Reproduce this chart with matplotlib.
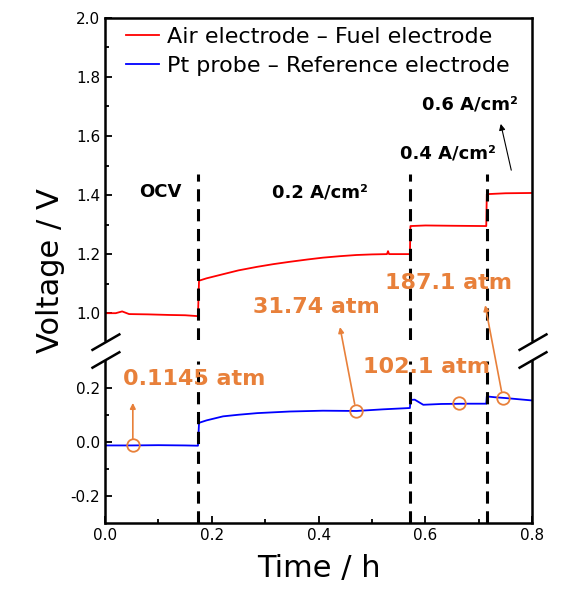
import matplotlib.pyplot as plt
from matplotlib.lines import Line2D

plt.rcParams["axes.unicode_minus"] = False

# values
t_red = [0.0, 0.02, 0.032, 0.045, 0.08, 0.12, 0.15, 0.174, 0.176, 0.19, 0.221, 0.25,
         0.285, 0.315, 0.346, 0.38, 0.408, 0.44, 0.471, 0.50, 0.528, 0.530, 0.532,
         0.571, 0.572, 0.60, 0.65, 0.714, 0.715, 0.75, 0.8]
v_red = [1.0, 1.0, 1.006, 0.997, 0.996, 0.994, 0.993, 0.99, 1.11, 1.118, 1.132, 1.145,
         1.157, 1.166, 1.174, 1.182, 1.188, 1.193, 1.197, 1.199, 1.2, 1.21, 1.2,
         1.2, 1.295, 1.297, 1.296, 1.295, 1.403, 1.406, 1.407]

t_blue = [0.0, 0.05, 0.10, 0.15, 0.174, 0.176, 0.19, 0.221, 0.25, 0.285, 0.346, 0.408,
          0.471, 0.52, 0.571, 0.572, 0.58, 0.596, 0.63, 0.68, 0.714, 0.715, 0.73, 0.75, 0.8]
v_blue = [-0.013, -0.013, -0.012, -0.013, -0.014, 0.071, 0.08, 0.095, 0.101, 0.107, 0.113,
          0.116, 0.115, 0.121, 0.126, 0.156, 0.157, 0.138, 0.141, 0.142, 0.142, 0.169,
          0.166, 0.163, 0.154]

t_circ = [0.052, 0.47, 0.663, 0.745]
v_circ = [-0.013, 0.115, 0.144, 0.163]
p_labels = ["0.1145 atm", "31.74 atm", "102.1 atm", "187.1 atm"]

t_steps = [0.175, 0.572, 0.715]
step_labels = ["OCV", "0.2 A/cm²", "0.4 A/cm²", "0.6 A/cm²"]

orange = "#E8803A"

fig = plt.figure(figsize=(5.71, 5.94), dpi=100)
L, R = 0.184, 0.932
ax_hi = fig.add_axes([L, 0.428, R - L, 0.970 - 0.428])
ax_lo = fig.add_axes([L, 0.120, R - L, 0.392 - 0.120])

for ax in (ax_hi, ax_lo):
    ax.plot(t_red, v_red, color="red", lw=1.3)
    ax.plot(t_blue, v_blue, color="blue", lw=1.3)
    ax.set_xlim(0, 0.8)
    ax.tick_params(direction="in", which="both", labelsize=11, width=1.3)
    ax.tick_params(which="major", length=5)
    ax.tick_params(which="minor", length=3)
    for s in ax.spines.values():
        s.set_linewidth(1.8)

ax_hi.set_ylim(0.91, 2.0)
ax_lo.set_ylim(-0.3, 0.3)
ax_hi.set_yticks([1.0, 1.2, 1.4, 1.6, 1.8, 2.0])
ax_hi.set_yticks([1.1, 1.3, 1.5, 1.7, 1.9], minor=True)
ax_lo.set_yticks([-0.2, 0.0, 0.2])
ax_lo.set_yticks([-0.1, 0.1], minor=True)
ax_lo.set_xticks([0.0, 0.2, 0.4, 0.6, 0.8])
ax_lo.set_xticks([0.1, 0.3, 0.5, 0.7], minor=True)
ax_hi.set_xticks([])
ax_hi.spines["bottom"].set_visible(False)
ax_lo.spines["top"].set_visible(False)

# vertical dashed step markers
for ts in t_steps:
    ax_hi.plot([ts, ts], [0.91, 1.47], color="black", lw=2.2, dashes=(4, 2.5))
    ax_lo.plot([ts, ts], [-0.3, 0.3], color="black", lw=2.2, dashes=(4, 2.5))

# step labels
ax_hi.text(0.103, 1.41, step_labels[0], fontsize=13, fontweight="bold", ha="center", va="center")
ax_hi.text(0.403, 1.41, step_labels[1], fontsize=13, fontweight="bold", ha="center", va="center")
ax_hi.text(0.642, 1.54, step_labels[2], fontsize=13, fontweight="bold", ha="center", va="center")
ax_hi.text(0.684, 1.705, step_labels[3], fontsize=13, fontweight="bold", ha="center", va="center")
ax_hi.annotate("", xy=(0.74, 1.65), xytext=(0.762, 1.475),
               arrowprops=dict(arrowstyle="-|>", color="black", lw=0.8, mutation_scale=9))

# pressure circles and labels
ax_lo.plot(t_circ, v_circ, "o", ms=9, mfc="none", mec=orange, mew=1.3)
ax_lo.text(0.034, 0.235, p_labels[0], color=orange, fontsize=16, fontweight="bold", va="center")
ax_hi.text(0.277, 1.02, p_labels[1], color=orange, fontsize=16, fontweight="bold", va="center")
ax_lo.text(0.483, 0.279, p_labels[2], color=orange, fontsize=16, fontweight="bold", va="center")
ax_hi.text(0.524, 1.102, p_labels[3], color=orange, fontsize=16, fontweight="bold", va="center")

aprops = dict(arrowstyle="-|>", color=orange, lw=1.2, mutation_scale=8, shrinkA=5, shrinkB=0)
ax_lo.annotate("", xy=(t_circ[0], 0.145), xytext=(t_circ[0], v_circ[0]), arrowprops=aprops)
ax_lo.annotate("", xy=(0.44, 0.953), xycoords=ax_hi.transData,
               xytext=(t_circ[1], v_circ[1]), textcoords=ax_lo.transData,
               arrowprops=aprops, annotation_clip=False)
ax_lo.annotate("", xy=(0.712, 1.027), xycoords=ax_hi.transData,
               xytext=(t_circ[3], v_circ[3]), textcoords=ax_lo.transData,
               arrowprops=aprops, annotation_clip=False)

# axis break marks
for xf in (L, R):
    for dy in (0.0, -0.03):
        fig.add_artist(Line2D([xf - 0.022, xf + 0.025], [0.411 + dy, 0.437 + dy],
                              transform=fig.transFigure, color="black", lw=1.8))

ax_hi.legend(["Air electrode – Fuel electrode", "Pt probe – Reference electrode"],
             loc="upper left", bbox_to_anchor=(0.02, 1.01), frameon=False, fontsize=16,
             handlelength=1.5, handletextpad=0.35, borderaxespad=0.15, borderpad=0.4,
             labelspacing=0.42)

fig.text(0.088, (0.970 + 0.120) / 2, "Voltage / V", rotation=90, fontsize=22, ha="center", va="center")
ax_lo.set_xlabel("Time / h", fontsize=22, labelpad=8)

fig.savefig("out.png", dpi=100)
